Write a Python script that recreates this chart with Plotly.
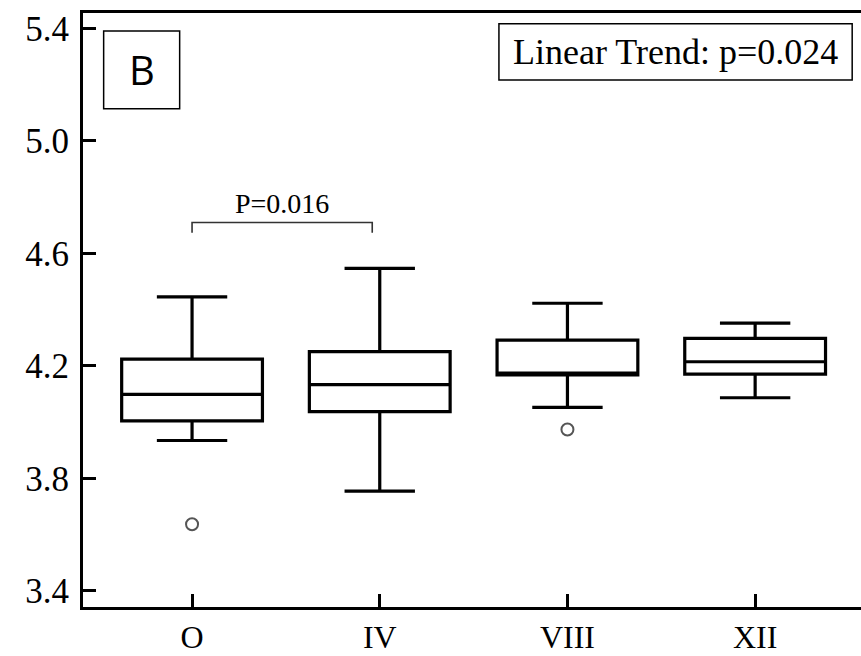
import plotly.graph_objects as go

# Groups and five-number summaries
groups = ["O", "IV", "VIII", "XII"]
lower_whisker = [3.935, 3.755, 4.053, 4.087]
q1_vals = [4.005, 4.038, 4.168, 4.171]
median_vals = [4.099, 4.134, 4.175, 4.215]
q3_vals = [4.224, 4.251, 4.292, 4.298]
upper_whisker = [4.446, 4.547, 4.423, 4.352]

# Outlying observations
outlier_groups = ["O", "VIII"]
outlier_vals = [3.637, 3.974]

# Pairwise comparison bracket (O vs IV)
bracket_label = "P=0.016"
bracket_level = 4.71
trend_label = "Linear Trend: p=0.024"
panel_label = "B"

y_ticks = [3.4, 3.8, 4.2, 4.6, 5.0, 5.4]

SERIF = "Liberation Serif, Times New Roman, serif"
x_pos = {g: i for i, g in enumerate(groups)}

fig = go.Figure()

fig.add_trace(go.Box(
    x=[x_pos[g] for g in groups],
    q1=q1_vals, median=median_vals, q3=q3_vals,
    lowerfence=lower_whisker, upperfence=upper_whisker,
    width=0.75, whiskerwidth=0.5,
    fillcolor="white",
    line=dict(color="black", width=3.2),
    boxpoints=False,
    showlegend=False,
    hoverinfo="skip",
))

fig.add_trace(go.Scatter(
    x=[x_pos[g] for g in outlier_groups], y=outlier_vals,
    mode="markers",
    marker=dict(symbol="circle-open", size=12, color="#555555",
                line=dict(width=2, color="#555555")),
    showlegend=False, hoverinfo="skip",
))

# Comparison bracket between O and IV
tick_drop = 0.036
fig.add_trace(go.Scatter(
    x=[x_pos["O"], x_pos["O"], x_pos["IV"] - 0.04, x_pos["IV"] - 0.04],
    y=[bracket_level - tick_drop, bracket_level, bracket_level, bracket_level - tick_drop],
    mode="lines", line=dict(color="#333333", width=1.6),
    showlegend=False, hoverinfo="skip",
))

fig.add_annotation(
    x=(x_pos["O"] + x_pos["IV"] - 0.04) / 2, y=bracket_level + 0.006,
    xref="x", yref="y", text=bracket_label, showarrow=False,
    yanchor="bottom", font=dict(family=SERIF, size=28, color="black"),
)

# Panel letter box
fig.add_shape(type="rect", xref="x", yref="y",
              x0=-0.471, x1=-0.066, y0=5.115, y1=5.391,
              line=dict(color="black", width=1.5), fillcolor="white", layer="below")
fig.add_annotation(
    x=(-0.471 - 0.066) / 2, y=(5.115 + 5.391) / 2, xref="x", yref="y",
    text=panel_label, showarrow=False,
    font=dict(family="Open Sans, Noto Sans, sans-serif", size=40, color="black"),
)

# Trend test box
fig.add_shape(type="rect", xref="x", yref="y",
              x0=1.635, x1=3.517, y0=5.217, y1=5.417,
              line=dict(color="black", width=1.5), fillcolor="white", layer="below")
fig.add_annotation(
    x=(1.635 + 3.517) / 2, y=(5.217 + 5.417) / 2, xref="x", yref="y",
    text=trend_label, showarrow=False,
    font=dict(family=SERIF, size=36, color="black"),
)

fig.update_layout(
    width=861, height=656,
    margin=dict(l=83, r=0, t=13, b=49, autoexpand=False),
    paper_bgcolor="white", plot_bgcolor="white",
    xaxis=dict(
        range=[-0.581, 3.564], automargin=False,
        tickmode="array", tickvals=list(range(len(groups))), ticktext=groups,
        ticks="inside", ticklen=13, tickwidth=3, tickcolor="black",
        showline=True, linecolor="black", linewidth=3, mirror=True,
        showgrid=False, zeroline=False,
        tickfont=dict(family=SERIF, size=32, color="black"),
        ticklabelstandoff=0,
    ),
    yaxis=dict(
        range=[3.343, 5.455], automargin=False,
        tickmode="array", tickvals=y_ticks, ticktext=[f"{v:.1f}" for v in y_ticks],
        ticks="inside", ticklen=13, tickwidth=3, tickcolor="black",
        showline=True, linecolor="black", linewidth=3, mirror=False,
        showgrid=False, zeroline=False,
        tickfont=dict(family=SERIF, size=35, color="black"),
        ticklabelstandoff=4,
    ),
)

fig.write_html("out.html")
